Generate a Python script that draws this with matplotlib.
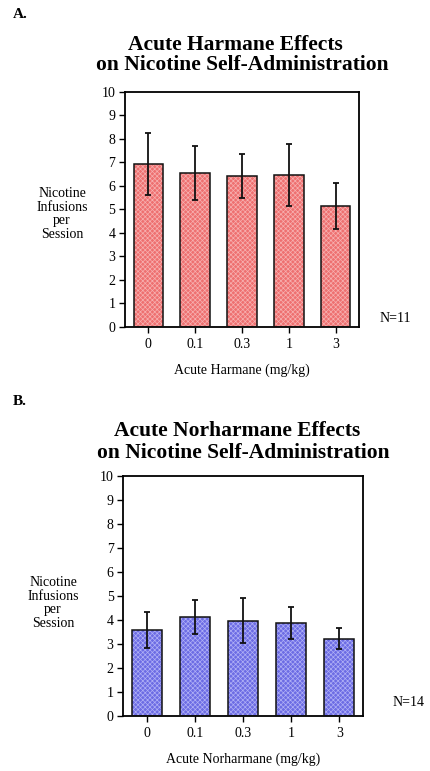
import matplotlib.pyplot as plt
import numpy as np

plt.rcParams['font.family'] = ['Liberation Serif', 'DejaVu Serif']
plt.rcParams['hatch.linewidth'] = 0.5

doses = ['0', '0.1', '0.3', '1', '3']

# Panel A: acute harmane
harmane_mean = [6.93, 6.53, 6.43, 6.48, 5.13]
harmane_sem = [1.33, 1.15, 0.93, 1.32, 0.98]

# Panel B: acute norharmane
norharmane_mean = [3.57, 4.12, 3.97, 3.88, 3.22]
norharmane_sem = [0.75, 0.72, 0.93, 0.67, 0.44]

W, H = 431, 771
fig = plt.figure(figsize=(W / 100, H / 100), dpi=100)


def px(x, y):
    # pixel position (from top-left) -> figure fraction
    return x / W, 1 - y / H


def panel(rect, means, sems, face, hatch_col, titles, xlabel, n_text, letter, letter_y,
          ylab_xy, n_xy):
    ax = fig.add_axes(rect)
    x = np.arange(len(doses))
    ax.bar(x, means, width=0.63, color=face, edgecolor=hatch_col, hatch='xxxxxxx',
           linewidth=0, zorder=2)
    ax.bar(x, means, width=0.63, fill=False, edgecolor='#111111', linewidth=1.1, zorder=3)
    ax.errorbar(x, means, yerr=sems, fmt='none', ecolor='#111111', elinewidth=1.3,
                capsize=2.2, capthick=1.3, zorder=4)
    ax.set_xlim(-0.5, len(doses) - 0.5)
    ax.set_ylim(0, 10)
    ax.set_yticks(range(0, 11))
    ax.set_xticks(x)
    ax.set_xticklabels(doses)
    ax.tick_params(direction='out', length=4, width=1, labelsize=10, pad=3)
    ax.tick_params(axis='x', pad=4)
    for s in ax.spines.values():
        s.set_linewidth(1.3)
    ax.set_xlabel(xlabel, fontsize=10, labelpad=9)
    # two-line bold title, placed by baseline
    for (tx, ty, txt) in titles:
        fig.text(*px(tx, ty), txt, ha='center', va='baseline', fontsize=15.5,
                 fontweight='bold')
    fig.text(*px(*ylab_xy), 'Nicotine\nInfusions\nper\nSession',
             ha='center', va='center', fontsize=10, linespacing=1.08)
    fig.text(*px(*n_xy), n_text, ha='left', va='center', fontsize=10)
    fig.text(*px(13, letter_y), letter, ha='left', va='center', fontsize=11,
             fontweight='bold')
    return ax


panel([125 / W, 1 - 326.7 / H, 234 / W, 234.7 / H], harmane_mean, harmane_sem,
      '#ee7070', '#f7b0b0',
      [(235, 49.5, 'Acute Harmane Effects'),
       (242, 70.5, 'on Nicotine Self-Administration')],
      'Acute Harmane (mg/kg)', 'N=11', 'A.', 15, (62, 214), (380, 318))

panel([123.3 / W, 1 - 715.7 / H, 240 / W, 239.7 / H], norharmane_mean, norharmane_sem,
      '#6c6ce4', '#b0b0f6',
      [(237.5, 436, 'Acute Norharmane Effects'),
       (243, 458, 'on Nicotine Self-Administration')],
      'Acute Norharmane (mg/kg)', 'N=14', 'B.', 401, (53, 603), (393, 702))

fig.savefig('out.png', dpi=100, facecolor='white')
